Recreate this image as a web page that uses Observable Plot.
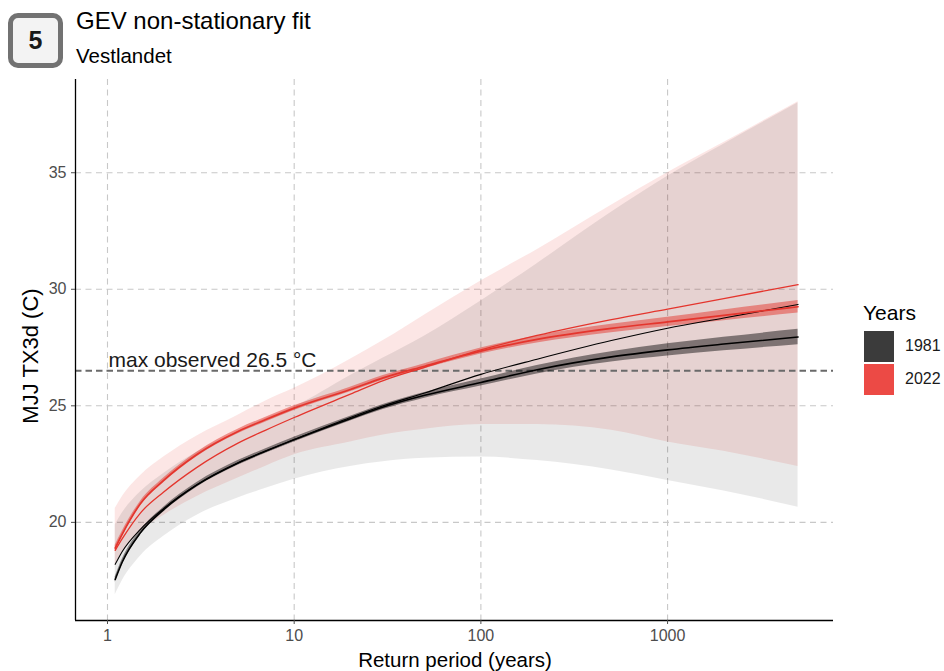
<!DOCTYPE html>
<html>
<head>
<meta charset="utf-8">
<script src="https://cdn.jsdelivr.net/npm/d3@7"></script>
<script src="https://cdn.jsdelivr.net/npm/@observablehq/plot@0.6"></script>
<style>
  body { margin: 0; background: #fff; font-family: "Liberation Sans", Arial, sans-serif; }
  #wrap { position: relative; width: 944px; height: 671px; overflow: hidden; background: #fff; }
  #chart { position: absolute; left: 0; top: 0; }
  .badge { position: absolute; left: 8px; top: 13px; width: 55px; height: 55px; box-sizing: border-box;
           border: 5px solid #727272; border-radius: 10px; background: #f3f3f3; color: #1a1a1a;
           font-weight: bold; font-size: 25px; display: flex; align-items: center; justify-content: center; }
  .t { position: absolute; white-space: nowrap; line-height: 1; color: #000; }
  .sw { position: absolute; width: 30px; height: 31px; }
</style>
</head>
<body>
<div id="wrap">
  <div id="chart"></div>
  <div class="badge">5</div>
  <div class="t" style="left:76px; top:8.5px; font-size:24px;">GEV non-stationary fit</div>
  <div class="t" style="left:76px; top:45.5px; font-size:20.5px;">Vestlandet</div>
  <div class="t" style="left:455px; top:649.5px; font-size:20.5px; transform:translateX(-50%);">Return period (years)</div>
  <div class="t" style="left:31px; top:356px; font-size:22px; transform:translate(-50%,-50%) rotate(-90deg);">MJJ TX3d (C)</div>
  <div class="t" style="left:863px; top:302px; font-size:21px;">Years</div>
  <div class="sw" style="left:864px; top:331px; background:#3b3b3b;"></div>
  <div class="sw" style="left:864px; top:364px; background:#ec4a45;"></div>
  <div class="t" style="left:905px; top:338px; font-size:16px; color:#1a1a1a;">1981</div>
  <div class="t" style="left:905px; top:371px; font-size:16px; color:#1a1a1a;">2022</div>
</div>
<script>
// Return periods (years)
const T = [1.1, 1.2, 1.5, 2, 3, 5, 7, 10, 20, 30, 50, 100, 200, 500, 1000, 2000, 5000];

// 1981: wide CI band, narrow band, central fit, thin line
const lo81w = [16.9, 17.5, 18.55, 19.4, 20.3, 21.05, 21.45, 21.85, 22.4, 22.6, 22.75, 22.8, 22.65, 22.25, 21.8, 21.35, 20.65];
const hi81w = [19.9, 20.4, 21.3, 22.1, 23.0, 23.9, 24.45, 24.95, 26.3, 27.05, 28.0, 29.5, 31.1, 33.3, 34.85, 36.22, 38.0];
const lo81n = [17.43, 18.18, 19.45, 20.45, 21.5, 22.45, 22.95, 23.45, 24.35, 24.84, 25.33, 25.85, 26.37, 26.88, 27.14, 27.36, 27.62];
const hi81n = [17.67, 18.42, 19.65, 20.65, 21.7, 22.65, 23.15, 23.65, 24.55, 25.06, 25.57, 26.15, 26.73, 27.32, 27.66, 27.94, 28.28];
const c81   = [17.55, 18.3, 19.55, 20.55, 21.6, 22.55, 23.05, 23.55, 24.45, 24.95, 25.45, 26.0, 26.55, 27.1, 27.4, 27.65, 27.95];
const t81   = [18.2, 18.75, 19.7, 20.6, 21.6, 22.55, 23.05, 23.55, 24.5, 25.0, 25.55, 26.35, 27.0, 27.8, 28.33, 28.77, 29.35];

// 2022
const lo22w = [18.2, 18.7, 19.6, 20.3, 21.1, 21.9, 22.4, 22.9, 23.45, 23.75, 24.0, 24.2, 24.2, 23.95, 23.45, 23.05, 22.4];
const hi22w = [20.6, 21.1, 22.0, 22.8, 23.7, 24.6, 25.2, 25.75, 27.0, 27.8, 28.9, 30.35, 31.7, 33.6, 35.0, 36.3, 38.05];
const lo22n = [18.78, 19.38, 20.7, 21.7, 22.8, 23.8, 24.3, 24.8, 25.6, 26.1, 26.59, 27.22, 27.7, 28.14, 28.4, 28.65, 28.98];
const hi22n = [19.02, 19.62, 20.9, 21.9, 23.0, 24.0, 24.5, 25.0, 25.8, 26.3, 26.81, 27.48, 28.0, 28.5, 28.8, 29.11, 29.52];
const c22   = [18.9, 19.5, 20.8, 21.8, 22.9, 23.9, 24.4, 24.9, 25.7, 26.2, 26.7, 27.35, 27.85, 28.32, 28.6, 28.88, 29.25];
const t22   = [18.8, 19.3, 20.4, 21.3, 22.35, 23.4, 23.95, 24.5, 25.5, 26.08, 26.65, 27.4, 28.02, 28.7, 29.15, 29.6, 30.2];

const maxObs = 26.5;
const xTicks = [1, 10, 100, 1000];
const yTicks = [20, 25, 30, 35];

const RED = "#e4352d";
const band = (lo, hi) => T.map((t, i) => ({t, lo: lo[i], hi: hi[i]}));
const line = (v) => T.map((t, i) => ({t, v: v[i]}));
const curve = "monotone-x";
const xDom = [0.674, 7740];
const yDom = [15.79, 39.0];

const chart = Plot.plot({
  width: 944, height: 671,
  marginTop: 79, marginBottom: 51, marginLeft: 75, marginRight: 111,
  x: {type: "log", domain: xDom},
  y: {domain: yDom},
  style: {fontFamily: "'Liberation Sans', Arial, sans-serif", background: "transparent", overflow: "visible"},
  marks: [
    Plot.ruleY(yTicks, {y: d => d, stroke: "#c8c8c8", strokeWidth: 1.1, strokeDasharray: "6,4.5"}),
    Plot.ruleX(xTicks, {x: d => d, stroke: "#c8c8c8", strokeWidth: 1.1, strokeDasharray: "6,4.5"}),
    Plot.areaY(band(lo22w, hi22w), {x: "t", y1: "lo", y2: "hi", fill: RED, fillOpacity: 0.12, curve}),
    Plot.areaY(band(lo81w, hi81w), {x: "t", y1: "lo", y2: "hi", fill: "#000", fillOpacity: 0.085, curve}),
    Plot.ruleY([maxObs], {y: d => d, stroke: "#6a6a6a", strokeWidth: 2, strokeDasharray: "6.5,4"}),
    Plot.text([{t: 1, v: maxObs}], {x: "t", y: "v", text: d => `max observed ${d.v} °C`,
      textAnchor: "start", lineAnchor: "bottom", dy: -4, dx: 1, fontSize: 21, fill: "#1a1a1a"}),
    Plot.areaY(band(lo81n, hi81n), {x: "t", y1: "lo", y2: "hi", fill: "#000", fillOpacity: 0.45, curve}),
    Plot.areaY(band(lo22n, hi22n), {x: "t", y1: "lo", y2: "hi", fill: RED, fillOpacity: 0.5, curve}),
    Plot.line(line(t81), {x: "t", y: "v", stroke: "#000", strokeWidth: 1.1, curve}),
    Plot.line(line(c81), {x: "t", y: "v", stroke: "#000", strokeWidth: 1.6, curve}),
    Plot.line(line(t22), {x: "t", y: "v", stroke: RED, strokeWidth: 1.3, curve}),
    Plot.line(line(c22), {x: "t", y: "v", stroke: RED, strokeWidth: 1.7, curve}),
    Plot.ruleX([xDom[0]], {x: d => d, stroke: "#000", strokeWidth: 1.3}),
    Plot.ruleY([yDom[0]], {y: d => d, stroke: "#000", strokeWidth: 1.3}),
    Plot.axisX({ticks: xTicks, tickFormat: d => String(d), tickSize: 4, tickPadding: 5,
      fontSize: 16, color: "#4d4d4d", label: null}),
    Plot.axisY({ticks: yTicks, tickFormat: d => String(d), tickSize: 4, tickPadding: 5,
      fontSize: 16, color: "#4d4d4d", label: null})
  ]
});
document.getElementById("chart").appendChild(chart);
</script>
</body>
</html>
